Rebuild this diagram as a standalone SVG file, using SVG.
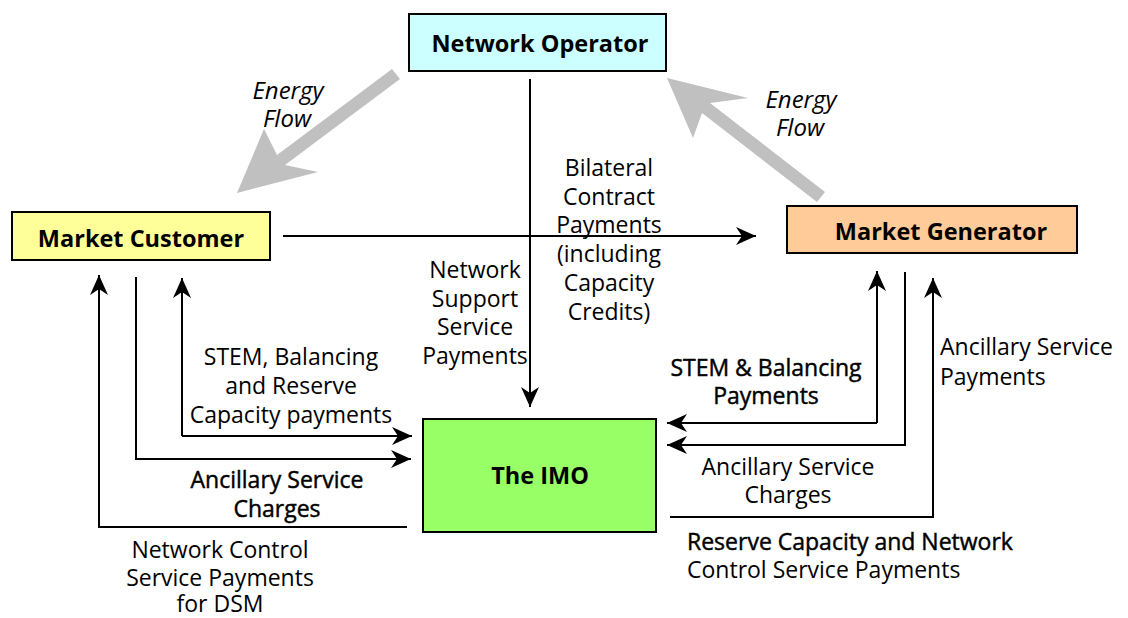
<svg xmlns="http://www.w3.org/2000/svg" width="1128" height="618" viewBox="0 0 1128 618">
<style>
.box{stroke:#000;stroke-width:2}
.nl{font-family:"Open Sans","Liberation Sans",sans-serif;font-weight:bold;font-size:23.5px;fill:#000;text-anchor:middle}
.t{font-family:"Open Sans","Liberation Sans",sans-serif;font-size:23px;fill:#000;text-anchor:middle}
.s{text-anchor:start}
.sb{stroke:#000;stroke-width:0.45}
.ti{font-family:"Open Sans","Liberation Sans",sans-serif;font-style:italic;font-size:24px;fill:#000;text-anchor:middle}
.c{fill:none;stroke:#000;stroke-width:2}
.ef{fill:#c0c0c0}
</style>
<defs>
<marker id="ah" markerUnits="userSpaceOnUse" markerWidth="22" markerHeight="20" refX="20" refY="9" orient="auto">
<path d="M0,0 L20,9 L0,18 L6,9 z" fill="#000"/>
</marker>
</defs>
<g id="connectors">
<polygon class="ef" points="392,69 400,79 285,165 318,172 237,193 264,129 277,155"/>
<polygon class="ef" points="825,192 710,103 748,98 667,78 693,138 702,113 817,202"/>
<line class="c" x1="283" y1="236" x2="756" y2="236" marker-end="url(#ah)"/>
<line class="c" x1="530" y1="79" x2="530" y2="407" marker-end="url(#ah)"/>
<polyline class="c" points="407,527 99,527 99,275" marker-end="url(#ah)"/>
<polyline class="c" points="136,277 136,459 411,459" marker-end="url(#ah)"/>
<polyline class="c" points="182,436 182,278" marker-end="url(#ah)"/>
<polyline class="c" points="182,436 412,436" marker-end="url(#ah)"/>
<polyline class="c" points="877,423 667,423" marker-end="url(#ah)"/>
<polyline class="c" points="877,423 877,271" marker-end="url(#ah)"/>
<polyline class="c" points="905,272 905,445 667,445" marker-end="url(#ah)"/>
<polyline class="c" points="670,517 933,517 933,278" marker-end="url(#ah)"/>
</g>
<g id="network-operator">
<rect class="box" x="409" y="14" width="257" height="57" fill="#ccffff"/>
<text class="nl" x="540" y="52">Network Operator</text>
</g>
<g id="market-customer">
<rect class="box" x="12" y="212" width="258" height="48" fill="#ffff99"/>
<text class="nl" x="141" y="247">Market Customer</text>
</g>
<g id="market-generator">
<rect class="box" x="787" y="206" width="290" height="47" fill="#ffcc99"/>
<text class="nl" x="941" y="240">Market Generator</text>
</g>
<g id="the-imo">
<rect class="box" x="423" y="419" width="233" height="113" fill="#99ff66"/>
<text class="nl" x="540" y="484">The IMO</text>
</g>
<g id="labels">
<text class="ti" x="288" y="99">Energy</text>
<text class="ti" x="287" y="127">Flow</text>
<text class="ti" x="801" y="108">Energy</text>
<text class="ti" x="800" y="136">Flow</text>
<text class="t" x="609" y="176">Bilateral</text>
<text class="t" x="609" y="205">Contract</text>
<text class="t" x="609" y="233">Payments</text>
<text class="t" x="609" y="262">(including</text>
<text class="t" x="609" y="291">Capacity</text>
<text class="t" x="609" y="320">Credits)</text>
<text class="t" x="475" y="278">Network</text>
<text class="t" x="475" y="307">Support</text>
<text class="t" x="475" y="335">Service</text>
<text class="t" x="475" y="364">Payments</text>
<text class="t" x="291" y="365">STEM, Balancing</text>
<text class="t" x="291" y="394">and Reserve</text>
<text class="t" x="291" y="423">Capacity payments</text>
<text class="t sb" x="277" y="488">Ancillary Service</text>
<text class="t sb" x="277" y="517">Charges</text>
<text class="t" x="220" y="558">Network Control</text>
<text class="t" x="220" y="586">Service Payments</text>
<text class="t" x="220" y="612">for DSM</text>
<text class="t sb" x="766" y="376">STEM &amp; Balancing</text>
<text class="t sb" x="766" y="404">Payments</text>
<text class="t" x="788" y="475">Ancillary Service</text>
<text class="t" x="788" y="503">Charges</text>
<text class="t s" x="940" y="355">Ancillary Service</text>
<text class="t s" x="940" y="385">Payments</text>
<text class="t s sb" x="687" y="550">Reserve Capacity and Network</text>
<text class="t s" x="687" y="578">Control Service  Payments</text>
</g>
</svg>
